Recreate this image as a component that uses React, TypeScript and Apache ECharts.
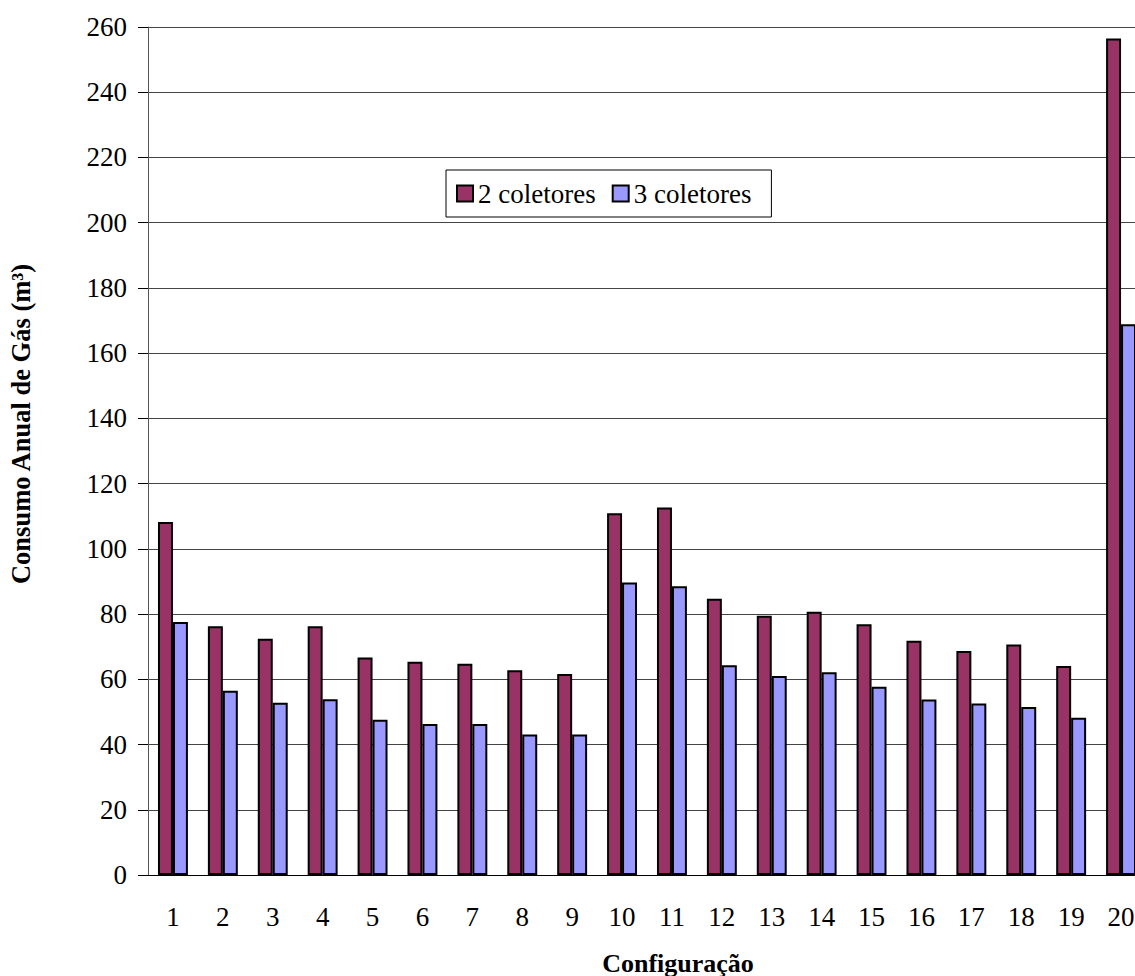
import React, { useEffect, useRef } from "react";
import * as echarts from "echarts";

const categories = ["1","2","3","4","5","6","7","8","9","10","11","12","13","14","15","16","17","18","19","20"];
const seriesNames = ["2 coletores", "3 coletores"];
const values2 = [108.2, 76.3, 72.4, 76.3, 66.7, 65.4, 64.8, 62.8, 61.6, 110.9, 112.7, 84.7, 79.5, 80.7, 76.9, 71.8, 68.7, 70.7, 64.1, 256.5];
const values3 = [77.6, 56.5, 52.8, 53.9, 47.6, 46.3, 46.3, 43.1, 43.1, 89.7, 88.5, 64.3, 61.0, 62.2, 57.7, 53.8, 52.6, 51.5, 48.2, 168.9];
const yTitle = "Consumo Anual de Gás (m³)";
const xTitle = "Configuração";

const FONT = "Liberation Serif";

export default function App() {
  const ref = useRef<HTMLDivElement>(null);
  useEffect(() => {
    if (!ref.current) return;
    const chart = echarts.init(ref.current, null, { renderer: "svg" });
    chart.setOption({
      animation: false,
      backgroundColor: "#ffffff",
      textStyle: { fontFamily: FONT },
      grid: { left: 148, top: 27, width: 998, height: 848, containLabel: false },
      legend: {
        left: 446,
        top: 170,
        orient: "horizontal",
        itemWidth: 16,
        itemHeight: 16,
        itemGap: 16,
        padding: [10, 20, 10, 10],
        borderColor: "#000",
        borderWidth: 1,
        backgroundColor: "#fff",
        icon: "rect",
        textStyle: { fontFamily: FONT, fontWeight: "normal", fontSize: 27, color: "#000" },
        data: seriesNames,
      },
      xAxis: {
        type: "category",
        data: categories,
        axisTick: { show: false },
        axisLine: { show: true, lineStyle: { color: "#000", width: 1 } },
        axisLabel: { fontFamily: FONT, fontWeight: "normal", fontSize: 27, color: "#000", margin: 28, interval: 0 },
      },
      yAxis: {
        type: "value",
        min: 0,
        max: 260,
        interval: 20,
        axisLine: { show: true, lineStyle: { color: "#555", width: 1 } },
        axisTick: { show: true, length: 10, inside: false, lineStyle: { color: "#000", width: 1 } },
        axisLabel: { fontFamily: FONT, fontWeight: "normal", fontSize: 27, color: "#000", margin: 21 },
        splitLine: { show: true, lineStyle: { color: "#444", width: 1 } },
      },
      series: [
        {
          name: seriesNames[0],
          type: "bar",
          data: values2,
          barGap: "0%",
          barCategoryGap: "40%",
          itemStyle: { color: "#993366", borderColor: "#000", borderWidth: 2 },
        },
        {
          name: seriesNames[1],
          type: "bar",
          data: values3,
          barGap: "0%",
          barCategoryGap: "40%",
          itemStyle: { color: "#9999FF", borderColor: "#000", borderWidth: 2 },
        },
      ],
      graphic: [
        {
          type: "text",
          x: 21,
          y: 424,
          rotation: Math.PI / 2,
          style: {
            text: yTitle,
            fontFamily: FONT,
            fontSize: 26.5,
            fontWeight: "bold",
            fill: "#000",
            textAlign: "center",
            textVerticalAlign: "middle",
          },
        },
        {
          type: "text",
          x: 678,
          y: 963,
          style: {
            text: xTitle,
            fontFamily: FONT,
            fontSize: 26,
            fontWeight: "bold",
            fill: "#000",
            textAlign: "center",
            textVerticalAlign: "middle",
          },
        },
      ],
    });
    return () => chart.dispose();
  }, []);
  return (
    <div style={{ position: "fixed", left: 0, top: 0, width: 1135, height: 976, overflow: "hidden", background: "#fff" }}>
      <div ref={ref} style={{ width: 1170, height: 976 }} />
    </div>
  );
}
